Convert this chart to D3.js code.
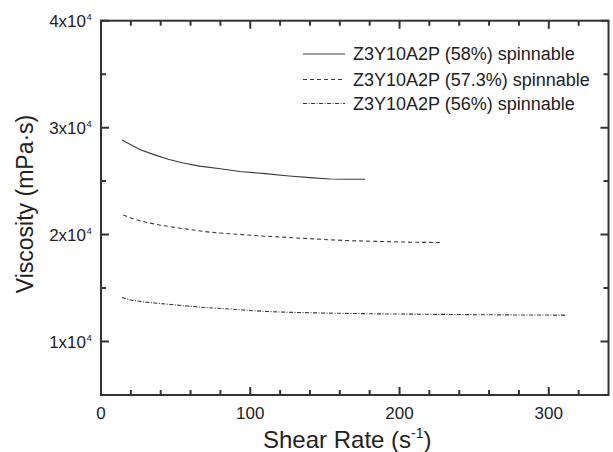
<!DOCTYPE html>
<html>
<head>
<meta charset="utf-8">
<script src="https://cdn.jsdelivr.net/npm/d3@7"></script>
<style>
  body { margin: 0; background: #fff; }
  svg { display: block; font-family: Arial, "Liberation Sans", sans-serif; }
</style>
</head>
<body>
<svg id="chart" width="613" height="452"></svg>
<script>
// ---- data ----
const seriesNames = [
  "Z3Y10A2P (58%) spinnable",
  "Z3Y10A2P (57.3%) spinnable",
  "Z3Y10A2P (56%) spinnable"
];
const shear58 = [14, 20, 26, 35, 45, 55, 66, 80, 93, 110, 126, 140, 153, 165, 177];
const visc58  = [28850, 28400, 27950, 27500, 27050, 26700, 26400, 26150, 25900, 25700, 25480, 25330, 25200, 25180, 25180];
const shear573 = [15, 22, 31, 42, 53, 63, 73, 84, 95, 106, 118, 130, 142, 154, 165, 180, 195, 210, 227];
const visc573  = [21840, 21450, 21120, 20830, 20600, 20400, 20220, 20100, 20000, 19880, 19790, 19690, 19600, 19510, 19440, 19380, 19330, 19280, 19260];
const shear56 = [14, 20, 28, 36, 44, 55, 66, 77, 88, 100, 111, 122, 133, 150, 170, 190, 210, 236, 260, 285, 312];
const visc56  = [14110, 13880, 13710, 13600, 13500, 13350, 13220, 13120, 13030, 12900, 12810, 12750, 12710, 12660, 12620, 12580, 12560, 12530, 12500, 12480, 12470];
const xMajorTicks = [0, 100, 200, 300];
const xMinorTicks = [20, 40, 60, 80, 120, 140, 160, 180, 220, 240, 260, 280, 320];
const yMajorTicks = [10000, 20000, 30000, 40000];
const yMinorTicks = [15000, 25000, 35000];
const yTickMantissa = ["1x10", "2x10", "3x10", "4x10"];
const yTickExponent = "4";
const xTitle = "Shear Rate (s";
const xTitleSup = "-1";
const yTitle = "Viscosity (mPa\u00B7s)";

// ---- layout ----
const svg = d3.select("#chart");
const L = 101, R = 608.5, T = 20.7, B = 395;
const x = d3.scaleLinear().domain([0, 340]).range([L, R]);
const y = d3.scaleLinear().domain([5000, 40000]).range([B, T]);
const axisColor = "#333";

const series = [
  { name: seriesNames[0], xs: shear58, ys: visc58, dash: null },
  { name: seriesNames[1], xs: shear573, ys: visc573, dash: "4,3" },
  { name: seriesNames[2], xs: shear56, ys: visc56, dash: "4,1.5,1,1.5" }
];

const line = d3.line().x(d => x(d[0])).y(d => y(d[1]));
series.forEach(s => {
  const pts = s.xs.map((v, i) => [v, s.ys[i]]);
  svg.append("path")
    .attr("d", line(pts))
    .attr("fill", "none")
    .attr("stroke", "#3a3a3a")
    .attr("stroke-width", 1.1)
    .attr("stroke-dasharray", s.dash);
});

// frame
svg.append("rect")
  .attr("x", L).attr("y", T).attr("width", R - L).attr("height", B - T)
  .attr("fill", "none").attr("stroke", axisColor).attr("stroke-width", 2);

// ticks (inward on all four sides)
function tickPath(vals, len, horizontal) {
  return vals.map(d => horizontal
    ? `M${x(d)},${B}V${B - len}M${x(d)},${T}V${T + len}`
    : `M${L},${y(d)}H${L + len}M${R},${y(d)}H${R - len}`).join("");
}
svg.append("path")
  .attr("d", tickPath(xMajorTicks, 8, true) + tickPath(xMinorTicks, 5, true) +
             tickPath(yMajorTicks, 8, false) + tickPath(yMinorTicks, 5, false))
  .attr("fill", "none")
  .attr("stroke", axisColor)
  .attr("stroke-width", 2);

// x tick labels
svg.append("g").selectAll("text").data(xMajorTicks).join("text")
  .attr("x", d => x(d)).attr("y", B + 24)
  .attr("text-anchor", "middle").attr("font-size", 17).attr("fill", "#222")
  .text(d => d);

// y tick labels
svg.append("g").selectAll("text").data(yMajorTicks).join("text")
  .attr("x", 86).attr("y", d => y(d) + 6.5)
  .attr("text-anchor", "end").attr("font-size", 17).attr("fill", "#222")
  .text((d, i) => yTickMantissa[i]);
svg.append("g").selectAll("text").data(yMajorTicks).join("text")
  .attr("x", 86.5).attr("y", d => y(d) - 1)
  .attr("font-size", 9.5).attr("fill", "#222")
  .text(yTickExponent);

// axis titles
const xt = svg.append("text")
  .attr("x", 263).attr("y", 448)
  .attr("font-size", 24).attr("fill", "#222");
xt.append("tspan").text(xTitle);
xt.append("tspan").attr("font-size", 14).attr("dy", -10).text(xTitleSup);
xt.append("tspan").attr("dy", 10).text(")");

svg.append("text")
  .attr("transform", "translate(33,204) rotate(-90)")
  .attr("text-anchor", "middle")
  .attr("font-size", 23).attr("fill", "#222")
  .text(yTitle);

// legend
const legendY = [54, 79.5, 103.5];
series.forEach((s, i) => {
  svg.append("line")
    .attr("x1", 303).attr("x2", 345)
    .attr("y1", legendY[i]).attr("y2", legendY[i])
    .attr("stroke", "#3a3a3a").attr("stroke-width", 1.1)
    .attr("stroke-dasharray", s.dash);
  svg.append("text")
    .attr("x", 353).attr("y", legendY[i] + 6.3)
    .attr("font-size", 18).attr("fill", "#222")
    .text(s.name);
});
</script>
</body>
</html>
